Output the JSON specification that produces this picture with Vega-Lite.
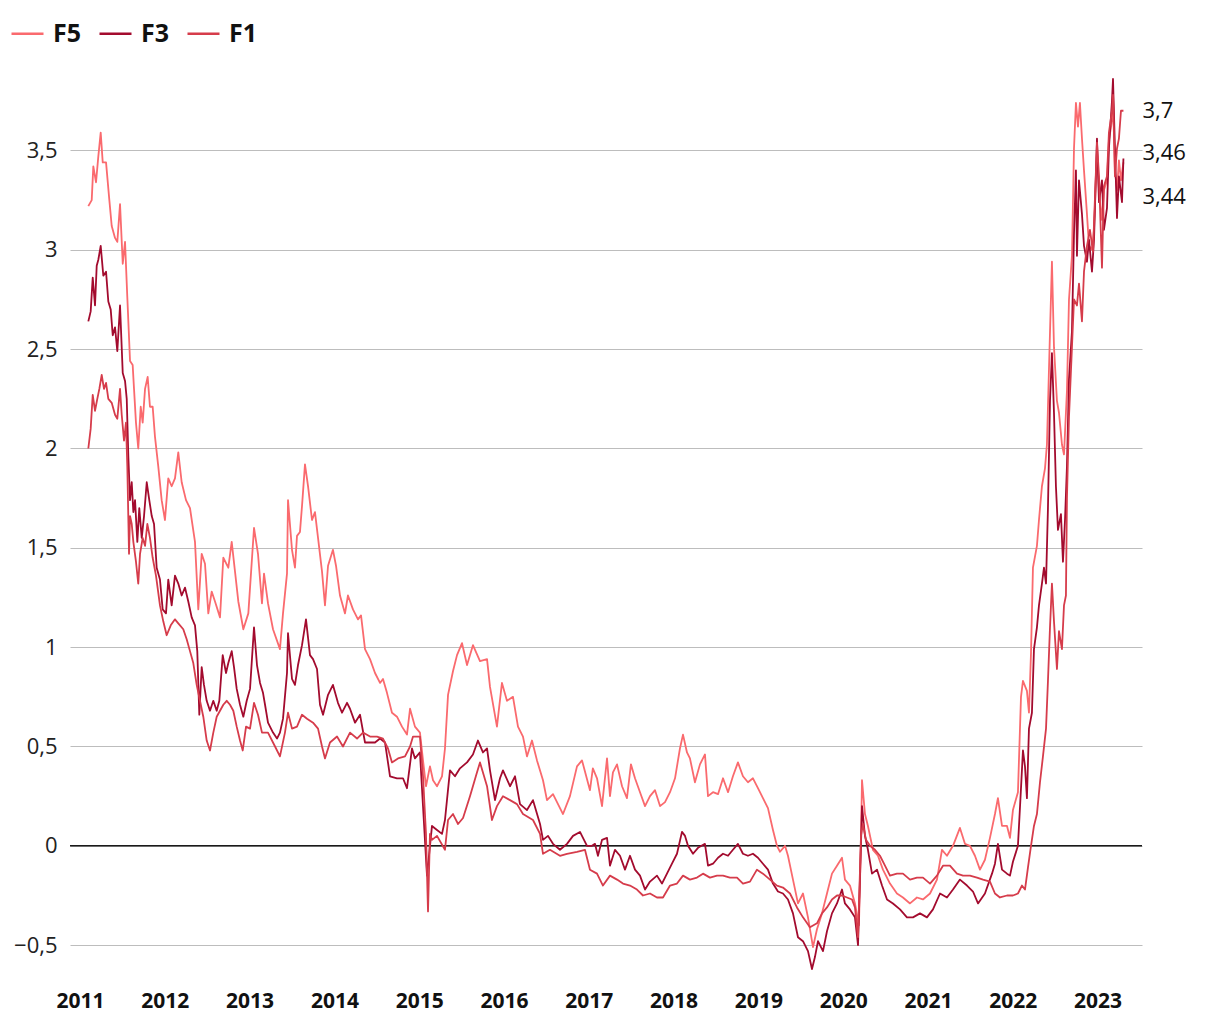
{
"$schema":"https://vega.github.io/schema/vega-lite/v6.json",
"width":1072,"height":894,
"autosize":{"type":"none"},
"padding":{"left":70,"top":75,"right":78,"bottom":51},
"background":"white",
"config":{"view":{"stroke":null},"font":"Open Sans"},
"datasets":{
"ends":[{"s":"F1","t":2023.305,"v":3.70,"label":"3,7"},{"s":"F3","t":2023.305,"v":3.46,"label":"3,46"},{"s":"F5","t":2023.305,"v":3.44,"label":"3,44"}],
"series":[
{"s":"F5","t":2011.098,"v":3.22},{"s":"F5","t":2011.138,"v":3.25},{"s":"F5","t":2011.157,"v":3.42},{"s":"F5","t":2011.189,"v":3.34},{"s":"F5","t":2011.216,"v":3.47},{"s":"F5","t":2011.244,"v":3.59},{"s":"F5","t":2011.268,"v":3.44},{"s":"F5","t":2011.307,"v":3.44},{"s":"F5","t":2011.346,"v":3.25},{"s":"F5","t":2011.374,"v":3.12},{"s":"F5","t":2011.413,"v":3.06},{"s":"F5","t":2011.440,"v":3.04},{"s":"F5","t":2011.472,"v":3.23},{"s":"F5","t":2011.504,"v":2.93},{"s":"F5","t":2011.531,"v":3.04},{"s":"F5","t":2011.558,"v":2.76},{"s":"F5","t":2011.590,"v":2.44},{"s":"F5","t":2011.621,"v":2.42},{"s":"F5","t":2011.637,"v":2.3},{"s":"F5","t":2011.660,"v":2.13},{"s":"F5","t":2011.687,"v":2.0},{"s":"F5","t":2011.716,"v":2.21},{"s":"F5","t":2011.739,"v":2.13},{"s":"F5","t":2011.767,"v":2.3},{"s":"F5","t":2011.798,"v":2.36},{"s":"F5","t":2011.825,"v":2.21},{"s":"F5","t":2011.857,"v":2.21},{"s":"F5","t":2011.884,"v":2.06},{"s":"F5","t":2011.923,"v":1.91},{"s":"F5","t":2011.963,"v":1.74},{"s":"F5","t":2012.002,"v":1.64},{"s":"F5","t":2012.041,"v":1.85},{"s":"F5","t":2012.081,"v":1.81},{"s":"F5","t":2012.120,"v":1.85},{"s":"F5","t":2012.159,"v":1.98},{"s":"F5","t":2012.199,"v":1.83},{"s":"F5","t":2012.250,"v":1.74},{"s":"F5","t":2012.297,"v":1.7},{"s":"F5","t":2012.356,"v":1.53},{"s":"F5","t":2012.395,"v":1.19},{"s":"F5","t":2012.435,"v":1.47},{"s":"F5","t":2012.474,"v":1.42},{"s":"F5","t":2012.513,"v":1.17},{"s":"F5","t":2012.553,"v":1.28},{"s":"F5","t":2012.592,"v":1.23},{"s":"F5","t":2012.651,"v":1.15},{"s":"F5","t":2012.690,"v":1.45},{"s":"F5","t":2012.749,"v":1.4},{"s":"F5","t":2012.789,"v":1.53},{"s":"F5","t":2012.828,"v":1.38},{"s":"F5","t":2012.867,"v":1.23},{"s":"F5","t":2012.926,"v":1.09},{"s":"F5","t":2012.985,"v":1.17},{"s":"F5","t":2013.052,"v":1.6},{"s":"F5","t":2013.099,"v":1.47},{"s":"F5","t":2013.146,"v":1.22},{"s":"F5","t":2013.170,"v":1.37},{"s":"F5","t":2013.217,"v":1.22},{"s":"F5","t":2013.276,"v":1.09},{"s":"F5","t":2013.358,"v":0.99},{"s":"F5","t":2013.394,"v":1.17},{"s":"F5","t":2013.441,"v":1.37},{"s":"F5","t":2013.453,"v":1.74},{"s":"F5","t":2013.500,"v":1.49},{"s":"F5","t":2013.535,"v":1.4},{"s":"F5","t":2013.559,"v":1.56},{"s":"F5","t":2013.594,"v":1.58},{"s":"F5","t":2013.618,"v":1.71},{"s":"F5","t":2013.653,"v":1.92},{"s":"F5","t":2013.689,"v":1.81},{"s":"F5","t":2013.736,"v":1.64},{"s":"F5","t":2013.771,"v":1.68},{"s":"F5","t":2013.807,"v":1.55},{"s":"F5","t":2013.854,"v":1.38},{"s":"F5","t":2013.889,"v":1.21},{"s":"F5","t":2013.925,"v":1.41},{"s":"F5","t":2013.983,"v":1.49},{"s":"F5","t":2014.019,"v":1.41},{"s":"F5","t":2014.066,"v":1.26},{"s":"F5","t":2014.125,"v":1.17},{"s":"F5","t":2014.160,"v":1.26},{"s":"F5","t":2014.219,"v":1.19},{"s":"F5","t":2014.278,"v":1.14},{"s":"F5","t":2014.314,"v":1.16},{"s":"F5","t":2014.361,"v":0.99},{"s":"F5","t":2014.420,"v":0.94},{"s":"F5","t":2014.479,"v":0.87},{"s":"F5","t":2014.538,"v":0.82},{"s":"F5","t":2014.573,"v":0.84},{"s":"F5","t":2014.620,"v":0.77},{"s":"F5","t":2014.679,"v":0.67},{"s":"F5","t":2014.738,"v":0.65},{"s":"F5","t":2014.797,"v":0.6},{"s":"F5","t":2014.856,"v":0.56},{"s":"F5","t":2014.892,"v":0.69},{"s":"F5","t":2014.950,"v":0.6},{"s":"F5","t":2015.009,"v":0.57},{"s":"F5","t":2015.045,"v":0.43},{"s":"F5","t":2015.080,"v":0.3},{"s":"F5","t":2015.127,"v":0.4},{"s":"F5","t":2015.163,"v":0.33},{"s":"F5","t":2015.210,"v":0.3},{"s":"F5","t":2015.269,"v":0.35},{"s":"F5","t":2015.304,"v":0.49},{"s":"F5","t":2015.340,"v":0.76},{"s":"F5","t":2015.399,"v":0.88},{"s":"F5","t":2015.446,"v":0.96},{"s":"F5","t":2015.505,"v":1.02},{"s":"F5","t":2015.564,"v":0.91},{"s":"F5","t":2015.634,"v":1.01},{"s":"F5","t":2015.717,"v":0.93},{"s":"F5","t":2015.800,"v":0.94},{"s":"F5","t":2015.835,"v":0.8},{"s":"F5","t":2015.917,"v":0.6},{"s":"F5","t":2015.976,"v":0.82},{"s":"F5","t":2016.035,"v":0.73},{"s":"F5","t":2016.106,"v":0.75},{"s":"F5","t":2016.165,"v":0.6},{"s":"F5","t":2016.224,"v":0.55},{"s":"F5","t":2016.271,"v":0.45},{"s":"F5","t":2016.330,"v":0.53},{"s":"F5","t":2016.389,"v":0.43},{"s":"F5","t":2016.460,"v":0.33},{"s":"F5","t":2016.507,"v":0.23},{"s":"F5","t":2016.578,"v":0.26},{"s":"F5","t":2016.696,"v":0.16},{"s":"F5","t":2016.778,"v":0.25},{"s":"F5","t":2016.861,"v":0.4},{"s":"F5","t":2016.920,"v":0.43},{"s":"F5","t":2017.014,"v":0.28},{"s":"F5","t":2017.048,"v":0.39},{"s":"F5","t":2017.097,"v":0.34},{"s":"F5","t":2017.156,"v":0.2},{"s":"F5","t":2017.215,"v":0.44},{"s":"F5","t":2017.250,"v":0.25},{"s":"F5","t":2017.285,"v":0.37},{"s":"F5","t":2017.333,"v":0.41},{"s":"F5","t":2017.392,"v":0.3},{"s":"F5","t":2017.450,"v":0.24},{"s":"F5","t":2017.497,"v":0.41},{"s":"F5","t":2017.545,"v":0.34},{"s":"F5","t":2017.604,"v":0.27},{"s":"F5","t":2017.663,"v":0.2},{"s":"F5","t":2017.722,"v":0.25},{"s":"F5","t":2017.781,"v":0.28},{"s":"F5","t":2017.840,"v":0.2},{"s":"F5","t":2017.899,"v":0.22},{"s":"F5","t":2017.958,"v":0.27},{"s":"F5","t":2018.017,"v":0.34},{"s":"F5","t":2018.075,"v":0.49},{"s":"F5","t":2018.111,"v":0.56},{"s":"F5","t":2018.158,"v":0.47},{"s":"F5","t":2018.193,"v":0.44},{"s":"F5","t":2018.252,"v":0.32},{"s":"F5","t":2018.311,"v":0.41},{"s":"F5","t":2018.370,"v":0.46},{"s":"F5","t":2018.406,"v":0.25},{"s":"F5","t":2018.465,"v":0.27},{"s":"F5","t":2018.524,"v":0.26},{"s":"F5","t":2018.583,"v":0.34},{"s":"F5","t":2018.642,"v":0.27},{"s":"F5","t":2018.700,"v":0.35},{"s":"F5","t":2018.759,"v":0.42},{"s":"F5","t":2018.818,"v":0.35},{"s":"F5","t":2018.877,"v":0.32},{"s":"F5","t":2018.936,"v":0.34},{"s":"F5","t":2018.995,"v":0.29},{"s":"F5","t":2019.054,"v":0.24},{"s":"F5","t":2019.113,"v":0.19},{"s":"F5","t":2019.172,"v":0.08},{"s":"F5","t":2019.219,"v":0.0},{"s":"F5","t":2019.255,"v":-0.03},{"s":"F5","t":2019.314,"v":0.0},{"s":"F5","t":2019.349,"v":-0.05},{"s":"F5","t":2019.408,"v":-0.17},{"s":"F5","t":2019.467,"v":-0.29},{"s":"F5","t":2019.526,"v":-0.24},{"s":"F5","t":2019.585,"v":-0.36},{"s":"F5","t":2019.644,"v":-0.51},{"s":"F5","t":2019.691,"v":-0.42},{"s":"F5","t":2019.750,"v":-0.34},{"s":"F5","t":2019.809,"v":-0.24},{"s":"F5","t":2019.868,"v":-0.14},{"s":"F5","t":2019.927,"v":-0.1},{"s":"F5","t":2019.986,"v":-0.06},{"s":"F5","t":2020.021,"v":-0.17},{"s":"F5","t":2020.080,"v":-0.2},{"s":"F5","t":2020.139,"v":-0.29},{"s":"F5","t":2020.186,"v":-0.4},{"s":"F5","t":2020.210,"v":0.03},{"s":"F5","t":2020.222,"v":0.33},{"s":"F5","t":2020.257,"v":0.16},{"s":"F5","t":2020.292,"v":0.1},{"s":"F5","t":2020.351,"v":-0.02},{"s":"F5","t":2020.410,"v":-0.05},{"s":"F5","t":2020.469,"v":-0.12},{"s":"F5","t":2020.552,"v":-0.19},{"s":"F5","t":2020.634,"v":-0.24},{"s":"F5","t":2020.705,"v":-0.26},{"s":"F5","t":2020.788,"v":-0.29},{"s":"F5","t":2020.870,"v":-0.26},{"s":"F5","t":2020.941,"v":-0.27},{"s":"F5","t":2021.024,"v":-0.24},{"s":"F5","t":2021.106,"v":-0.17},{"s":"F5","t":2021.165,"v":-0.02},{"s":"F5","t":2021.224,"v":-0.05},{"s":"F5","t":2021.295,"v":0.0},{"s":"F5","t":2021.377,"v":0.09},{"s":"F5","t":2021.436,"v":0.01},{"s":"F5","t":2021.495,"v":0.0},{"s":"F5","t":2021.554,"v":-0.05},{"s":"F5","t":2021.613,"v":-0.12},{"s":"F5","t":2021.672,"v":-0.07},{"s":"F5","t":2021.731,"v":0.04},{"s":"F5","t":2021.790,"v":0.16},{"s":"F5","t":2021.825,"v":0.24},{"s":"F5","t":2021.873,"v":0.1},{"s":"F5","t":2021.932,"v":0.1},{"s":"F5","t":2021.967,"v":0.04},{"s":"F5","t":2022.002,"v":0.18},{"s":"F5","t":2022.061,"v":0.27},{"s":"F5","t":2022.097,"v":0.75},{"s":"F5","t":2022.120,"v":0.83},{"s":"F5","t":2022.167,"v":0.78},{"s":"F5","t":2022.191,"v":0.67},{"s":"F5","t":2022.215,"v":0.97},{"s":"F5","t":2022.238,"v":1.4},{"s":"F5","t":2022.285,"v":1.51},{"s":"F5","t":2022.309,"v":1.64},{"s":"F5","t":2022.344,"v":1.81},{"s":"F5","t":2022.380,"v":1.9},{"s":"F5","t":2022.403,"v":2.02},{"s":"F5","t":2022.427,"v":2.4},{"s":"F5","t":2022.462,"v":2.94},{"s":"F5","t":2022.486,"v":2.51},{"s":"F5","t":2022.521,"v":2.24},{"s":"F5","t":2022.545,"v":2.18},{"s":"F5","t":2022.580,"v":2.02},{"s":"F5","t":2022.604,"v":1.97},{"s":"F5","t":2022.639,"v":2.29},{"s":"F5","t":2022.663,"v":2.75},{"s":"F5","t":2022.698,"v":2.97},{"s":"F5","t":2022.722,"v":3.51},{"s":"F5","t":2022.745,"v":3.74},{"s":"F5","t":2022.769,"v":3.62},{"s":"F5","t":2022.792,"v":3.74},{"s":"F5","t":2022.816,"v":3.56},{"s":"F5","t":2022.840,"v":3.4},{"s":"F5","t":2022.875,"v":3.18},{"s":"F5","t":2022.899,"v":3.02},{"s":"F5","t":2022.934,"v":3.0},{"s":"F5","t":2022.958,"v":3.1},{"s":"F5","t":2022.993,"v":3.5},{"s":"F5","t":2023.017,"v":3.3},{"s":"F5","t":2023.052,"v":3.15},{"s":"F5","t":2023.075,"v":3.3},{"s":"F5","t":2023.111,"v":3.35},{"s":"F5","t":2023.134,"v":3.55},{"s":"F5","t":2023.170,"v":3.65},{"s":"F5","t":2023.182,"v":3.8},{"s":"F5","t":2023.205,"v":3.4},{"s":"F5","t":2023.229,"v":3.3},{"s":"F5","t":2023.252,"v":3.45},{"s":"F5","t":2023.276,"v":3.35},{"s":"F5","t":2023.305,"v":3.44},
{"s":"F3","t":2011.098,"v":2.64},{"s":"F3","t":2011.126,"v":2.69},{"s":"F3","t":2011.150,"v":2.86},{"s":"F3","t":2011.177,"v":2.72},{"s":"F3","t":2011.197,"v":2.92},{"s":"F3","t":2011.216,"v":2.95},{"s":"F3","t":2011.244,"v":3.02},{"s":"F3","t":2011.275,"v":2.87},{"s":"F3","t":2011.307,"v":2.89},{"s":"F3","t":2011.334,"v":2.74},{"s":"F3","t":2011.362,"v":2.7},{"s":"F3","t":2011.386,"v":2.57},{"s":"F3","t":2011.413,"v":2.61},{"s":"F3","t":2011.440,"v":2.49},{"s":"F3","t":2011.472,"v":2.72},{"s":"F3","t":2011.504,"v":2.38},{"s":"F3","t":2011.531,"v":2.34},{"s":"F3","t":2011.551,"v":2.25},{"s":"F3","t":2011.570,"v":1.96},{"s":"F3","t":2011.590,"v":1.74},{"s":"F3","t":2011.610,"v":1.83},{"s":"F3","t":2011.629,"v":1.68},{"s":"F3","t":2011.649,"v":1.74},{"s":"F3","t":2011.676,"v":1.53},{"s":"F3","t":2011.699,"v":1.7},{"s":"F3","t":2011.728,"v":1.55},{"s":"F3","t":2011.755,"v":1.66},{"s":"F3","t":2011.787,"v":1.83},{"s":"F3","t":2011.817,"v":1.74},{"s":"F3","t":2011.846,"v":1.66},{"s":"F3","t":2011.873,"v":1.62},{"s":"F3","t":2011.904,"v":1.4},{"s":"F3","t":2011.943,"v":1.34},{"s":"F3","t":2011.975,"v":1.19},{"s":"F3","t":2012.014,"v":1.17},{"s":"F3","t":2012.041,"v":1.34},{"s":"F3","t":2012.081,"v":1.21},{"s":"F3","t":2012.120,"v":1.36},{"s":"F3","t":2012.159,"v":1.32},{"s":"F3","t":2012.199,"v":1.26},{"s":"F3","t":2012.238,"v":1.3},{"s":"F3","t":2012.277,"v":1.23},{"s":"F3","t":2012.317,"v":1.15},{"s":"F3","t":2012.356,"v":1.11},{"s":"F3","t":2012.383,"v":0.98},{"s":"F3","t":2012.407,"v":0.66},{"s":"F3","t":2012.435,"v":0.9},{"s":"F3","t":2012.462,"v":0.81},{"s":"F3","t":2012.494,"v":0.73},{"s":"F3","t":2012.533,"v":0.68},{"s":"F3","t":2012.572,"v":0.73},{"s":"F3","t":2012.612,"v":0.68},{"s":"F3","t":2012.643,"v":0.73},{"s":"F3","t":2012.683,"v":0.96},{"s":"F3","t":2012.722,"v":0.87},{"s":"F3","t":2012.749,"v":0.92},{"s":"F3","t":2012.789,"v":0.98},{"s":"F3","t":2012.816,"v":0.9},{"s":"F3","t":2012.848,"v":0.79},{"s":"F3","t":2012.887,"v":0.71},{"s":"F3","t":2012.926,"v":0.65},{"s":"F3","t":2012.966,"v":0.73},{"s":"F3","t":2013.005,"v":0.79},{"s":"F3","t":2013.052,"v":1.1},{"s":"F3","t":2013.087,"v":0.91},{"s":"F3","t":2013.123,"v":0.82},{"s":"F3","t":2013.158,"v":0.77},{"s":"F3","t":2013.182,"v":0.71},{"s":"F3","t":2013.217,"v":0.62},{"s":"F3","t":2013.276,"v":0.57},{"s":"F3","t":2013.323,"v":0.54},{"s":"F3","t":2013.358,"v":0.57},{"s":"F3","t":2013.394,"v":0.64},{"s":"F3","t":2013.441,"v":0.87},{"s":"F3","t":2013.453,"v":1.07},{"s":"F3","t":2013.500,"v":0.84},{"s":"F3","t":2013.535,"v":0.81},{"s":"F3","t":2013.571,"v":0.91},{"s":"F3","t":2013.618,"v":1.01},{"s":"F3","t":2013.665,"v":1.14},{"s":"F3","t":2013.712,"v":0.96},{"s":"F3","t":2013.748,"v":0.94},{"s":"F3","t":2013.795,"v":0.89},{"s":"F3","t":2013.830,"v":0.71},{"s":"F3","t":2013.866,"v":0.66},{"s":"F3","t":2013.925,"v":0.76},{"s":"F3","t":2013.983,"v":0.81},{"s":"F3","t":2014.042,"v":0.72},{"s":"F3","t":2014.090,"v":0.67},{"s":"F3","t":2014.149,"v":0.72},{"s":"F3","t":2014.184,"v":0.69},{"s":"F3","t":2014.243,"v":0.62},{"s":"F3","t":2014.302,"v":0.66},{"s":"F3","t":2014.361,"v":0.52},{"s":"F3","t":2014.420,"v":0.52},{"s":"F3","t":2014.479,"v":0.52},{"s":"F3","t":2014.538,"v":0.54},{"s":"F3","t":2014.597,"v":0.52},{"s":"F3","t":2014.656,"v":0.35},{"s":"F3","t":2014.738,"v":0.34},{"s":"F3","t":2014.809,"v":0.34},{"s":"F3","t":2014.856,"v":0.29},{"s":"F3","t":2014.915,"v":0.49},{"s":"F3","t":2014.950,"v":0.44},{"s":"F3","t":2015.009,"v":0.47},{"s":"F3","t":2015.045,"v":0.2},{"s":"F3","t":2015.092,"v":-0.15},{"s":"F3","t":2015.151,"v":0.1},{"s":"F3","t":2015.210,"v":0.08},{"s":"F3","t":2015.269,"v":0.06},{"s":"F3","t":2015.304,"v":0.13},{"s":"F3","t":2015.363,"v":0.38},{"s":"F3","t":2015.422,"v":0.35},{"s":"F3","t":2015.481,"v":0.39},{"s":"F3","t":2015.564,"v":0.42},{"s":"F3","t":2015.634,"v":0.46},{"s":"F3","t":2015.693,"v":0.53},{"s":"F3","t":2015.752,"v":0.47},{"s":"F3","t":2015.800,"v":0.49},{"s":"F3","t":2015.835,"v":0.38},{"s":"F3","t":2015.894,"v":0.23},{"s":"F3","t":2015.953,"v":0.34},{"s":"F3","t":2015.988,"v":0.38},{"s":"F3","t":2016.071,"v":0.3},{"s":"F3","t":2016.130,"v":0.35},{"s":"F3","t":2016.189,"v":0.21},{"s":"F3","t":2016.271,"v":0.18},{"s":"F3","t":2016.342,"v":0.23},{"s":"F3","t":2016.425,"v":0.11},{"s":"F3","t":2016.460,"v":0.03},{"s":"F3","t":2016.519,"v":0.05},{"s":"F3","t":2016.578,"v":0.01},{"s":"F3","t":2016.660,"v":-0.02},{"s":"F3","t":2016.743,"v":0.01},{"s":"F3","t":2016.814,"v":0.05},{"s":"F3","t":2016.896,"v":0.07},{"s":"F3","t":2016.979,"v":0.0},{"s":"F3","t":2017.038,"v":0.0},{"s":"F3","t":2017.073,"v":0.01},{"s":"F3","t":2017.108,"v":-0.05},{"s":"F3","t":2017.156,"v":0.03},{"s":"F3","t":2017.215,"v":0.04},{"s":"F3","t":2017.250,"v":-0.1},{"s":"F3","t":2017.309,"v":-0.02},{"s":"F3","t":2017.368,"v":-0.05},{"s":"F3","t":2017.427,"v":-0.12},{"s":"F3","t":2017.486,"v":-0.05},{"s":"F3","t":2017.545,"v":-0.12},{"s":"F3","t":2017.604,"v":-0.15},{"s":"F3","t":2017.663,"v":-0.22},{"s":"F3","t":2017.722,"v":-0.18},{"s":"F3","t":2017.804,"v":-0.15},{"s":"F3","t":2017.863,"v":-0.19},{"s":"F3","t":2017.922,"v":-0.14},{"s":"F3","t":2017.981,"v":-0.09},{"s":"F3","t":2018.040,"v":-0.04},{"s":"F3","t":2018.099,"v":0.07},{"s":"F3","t":2018.135,"v":0.05},{"s":"F3","t":2018.170,"v":0.0},{"s":"F3","t":2018.229,"v":-0.04},{"s":"F3","t":2018.288,"v":-0.01},{"s":"F3","t":2018.370,"v":0.01},{"s":"F3","t":2018.406,"v":-0.1},{"s":"F3","t":2018.465,"v":-0.09},{"s":"F3","t":2018.524,"v":-0.06},{"s":"F3","t":2018.583,"v":-0.04},{"s":"F3","t":2018.642,"v":-0.05},{"s":"F3","t":2018.700,"v":-0.02},{"s":"F3","t":2018.759,"v":0.01},{"s":"F3","t":2018.818,"v":-0.04},{"s":"F3","t":2018.877,"v":-0.05},{"s":"F3","t":2018.936,"v":-0.04},{"s":"F3","t":2018.995,"v":-0.06},{"s":"F3","t":2019.054,"v":-0.09},{"s":"F3","t":2019.113,"v":-0.12},{"s":"F3","t":2019.172,"v":-0.19},{"s":"F3","t":2019.231,"v":-0.23},{"s":"F3","t":2019.290,"v":-0.24},{"s":"F3","t":2019.349,"v":-0.27},{"s":"F3","t":2019.408,"v":-0.34},{"s":"F3","t":2019.467,"v":-0.46},{"s":"F3","t":2019.526,"v":-0.48},{"s":"F3","t":2019.585,"v":-0.53},{"s":"F3","t":2019.632,"v":-0.62},{"s":"F3","t":2019.667,"v":-0.56},{"s":"F3","t":2019.703,"v":-0.48},{"s":"F3","t":2019.762,"v":-0.53},{"s":"F3","t":2019.809,"v":-0.43},{"s":"F3","t":2019.868,"v":-0.34},{"s":"F3","t":2019.927,"v":-0.29},{"s":"F3","t":2019.986,"v":-0.22},{"s":"F3","t":2020.021,"v":-0.29},{"s":"F3","t":2020.080,"v":-0.32},{"s":"F3","t":2020.139,"v":-0.36},{"s":"F3","t":2020.175,"v":-0.5},{"s":"F3","t":2020.210,"v":0.01},{"s":"F3","t":2020.222,"v":0.2},{"s":"F3","t":2020.257,"v":0.05},{"s":"F3","t":2020.292,"v":-0.02},{"s":"F3","t":2020.340,"v":-0.14},{"s":"F3","t":2020.399,"v":-0.12},{"s":"F3","t":2020.458,"v":-0.2},{"s":"F3","t":2020.517,"v":-0.27},{"s":"F3","t":2020.587,"v":-0.29},{"s":"F3","t":2020.670,"v":-0.32},{"s":"F3","t":2020.752,"v":-0.36},{"s":"F3","t":2020.823,"v":-0.36},{"s":"F3","t":2020.906,"v":-0.34},{"s":"F3","t":2020.988,"v":-0.36},{"s":"F3","t":2021.059,"v":-0.32},{"s":"F3","t":2021.142,"v":-0.24},{"s":"F3","t":2021.224,"v":-0.26},{"s":"F3","t":2021.295,"v":-0.22},{"s":"F3","t":2021.377,"v":-0.17},{"s":"F3","t":2021.460,"v":-0.2},{"s":"F3","t":2021.531,"v":-0.23},{"s":"F3","t":2021.590,"v":-0.29},{"s":"F3","t":2021.672,"v":-0.24},{"s":"F3","t":2021.755,"v":-0.14},{"s":"F3","t":2021.790,"v":-0.09},{"s":"F3","t":2021.825,"v":0.01},{"s":"F3","t":2021.873,"v":-0.12},{"s":"F3","t":2021.932,"v":-0.14},{"s":"F3","t":2021.967,"v":-0.15},{"s":"F3","t":2022.002,"v":-0.08},{"s":"F3","t":2022.061,"v":0.0},{"s":"F3","t":2022.097,"v":0.29},{"s":"F3","t":2022.120,"v":0.48},{"s":"F3","t":2022.144,"v":0.4},{"s":"F3","t":2022.167,"v":0.24},{"s":"F3","t":2022.191,"v":0.59},{"s":"F3","t":2022.226,"v":0.67},{"s":"F3","t":2022.250,"v":0.99},{"s":"F3","t":2022.285,"v":1.1},{"s":"F3","t":2022.309,"v":1.21},{"s":"F3","t":2022.344,"v":1.32},{"s":"F3","t":2022.368,"v":1.4},{"s":"F3","t":2022.392,"v":1.32},{"s":"F3","t":2022.415,"v":1.7},{"s":"F3","t":2022.439,"v":2.24},{"s":"F3","t":2022.462,"v":2.48},{"s":"F3","t":2022.486,"v":2.18},{"s":"F3","t":2022.509,"v":1.81},{"s":"F3","t":2022.533,"v":1.59},{"s":"F3","t":2022.568,"v":1.67},{"s":"F3","t":2022.592,"v":1.43},{"s":"F3","t":2022.616,"v":1.64},{"s":"F3","t":2022.639,"v":1.91},{"s":"F3","t":2022.663,"v":2.35},{"s":"F3","t":2022.698,"v":2.59},{"s":"F3","t":2022.722,"v":3.08},{"s":"F3","t":2022.745,"v":3.4},{"s":"F3","t":2022.757,"v":2.97},{"s":"F3","t":2022.781,"v":3.35},{"s":"F3","t":2022.816,"v":3.18},{"s":"F3","t":2022.840,"v":3.02},{"s":"F3","t":2022.875,"v":2.94},{"s":"F3","t":2022.899,"v":3.05},{"s":"F3","t":2022.934,"v":2.89},{"s":"F3","t":2022.958,"v":3.05},{"s":"F3","t":2022.993,"v":3.56},{"s":"F3","t":2023.017,"v":3.24},{"s":"F3","t":2023.052,"v":3.35},{"s":"F3","t":2023.075,"v":3.1},{"s":"F3","t":2023.111,"v":3.21},{"s":"F3","t":2023.134,"v":3.51},{"s":"F3","t":2023.170,"v":3.75},{"s":"F3","t":2023.182,"v":3.86},{"s":"F3","t":2023.205,"v":3.51},{"s":"F3","t":2023.229,"v":3.16},{"s":"F3","t":2023.252,"v":3.37},{"s":"F3","t":2023.288,"v":3.24},{"s":"F3","t":2023.305,"v":3.46},
{"s":"F1","t":2011.098,"v":2.0},{"s":"F1","t":2011.126,"v":2.1},{"s":"F1","t":2011.150,"v":2.27},{"s":"F1","t":2011.177,"v":2.19},{"s":"F1","t":2011.204,"v":2.25},{"s":"F1","t":2011.228,"v":2.3},{"s":"F1","t":2011.256,"v":2.37},{"s":"F1","t":2011.283,"v":2.3},{"s":"F1","t":2011.307,"v":2.33},{"s":"F1","t":2011.334,"v":2.25},{"s":"F1","t":2011.374,"v":2.23},{"s":"F1","t":2011.413,"v":2.17},{"s":"F1","t":2011.440,"v":2.15},{"s":"F1","t":2011.472,"v":2.3},{"s":"F1","t":2011.492,"v":2.17},{"s":"F1","t":2011.519,"v":2.04},{"s":"F1","t":2011.542,"v":2.13},{"s":"F1","t":2011.558,"v":1.91},{"s":"F1","t":2011.578,"v":1.47},{"s":"F1","t":2011.590,"v":1.66},{"s":"F1","t":2011.610,"v":1.62},{"s":"F1","t":2011.629,"v":1.53},{"s":"F1","t":2011.660,"v":1.43},{"s":"F1","t":2011.687,"v":1.32},{"s":"F1","t":2011.708,"v":1.47},{"s":"F1","t":2011.739,"v":1.55},{"s":"F1","t":2011.767,"v":1.51},{"s":"F1","t":2011.794,"v":1.62},{"s":"F1","t":2011.825,"v":1.55},{"s":"F1","t":2011.857,"v":1.45},{"s":"F1","t":2011.896,"v":1.36},{"s":"F1","t":2011.943,"v":1.21},{"s":"F1","t":2011.982,"v":1.13},{"s":"F1","t":2012.022,"v":1.06},{"s":"F1","t":2012.070,"v":1.11},{"s":"F1","t":2012.120,"v":1.14},{"s":"F1","t":2012.159,"v":1.12},{"s":"F1","t":2012.218,"v":1.09},{"s":"F1","t":2012.258,"v":1.04},{"s":"F1","t":2012.297,"v":0.98},{"s":"F1","t":2012.336,"v":0.92},{"s":"F1","t":2012.376,"v":0.81},{"s":"F1","t":2012.415,"v":0.73},{"s":"F1","t":2012.454,"v":0.65},{"s":"F1","t":2012.494,"v":0.53},{"s":"F1","t":2012.533,"v":0.48},{"s":"F1","t":2012.572,"v":0.57},{"s":"F1","t":2012.612,"v":0.65},{"s":"F1","t":2012.651,"v":0.68},{"s":"F1","t":2012.690,"v":0.71},{"s":"F1","t":2012.730,"v":0.73},{"s":"F1","t":2012.769,"v":0.71},{"s":"F1","t":2012.808,"v":0.68},{"s":"F1","t":2012.848,"v":0.6},{"s":"F1","t":2012.887,"v":0.53},{"s":"F1","t":2012.919,"v":0.48},{"s":"F1","t":2012.958,"v":0.6},{"s":"F1","t":2013.005,"v":0.59},{"s":"F1","t":2013.052,"v":0.72},{"s":"F1","t":2013.099,"v":0.66},{"s":"F1","t":2013.146,"v":0.57},{"s":"F1","t":2013.217,"v":0.57},{"s":"F1","t":2013.300,"v":0.5},{"s":"F1","t":2013.358,"v":0.45},{"s":"F1","t":2013.417,"v":0.57},{"s":"F1","t":2013.453,"v":0.67},{"s":"F1","t":2013.500,"v":0.59},{"s":"F1","t":2013.559,"v":0.6},{"s":"F1","t":2013.618,"v":0.66},{"s":"F1","t":2013.677,"v":0.64},{"s":"F1","t":2013.748,"v":0.62},{"s":"F1","t":2013.807,"v":0.59},{"s":"F1","t":2013.854,"v":0.5},{"s":"F1","t":2013.889,"v":0.44},{"s":"F1","t":2013.948,"v":0.52},{"s":"F1","t":2014.031,"v":0.55},{"s":"F1","t":2014.101,"v":0.5},{"s":"F1","t":2014.184,"v":0.57},{"s":"F1","t":2014.267,"v":0.54},{"s":"F1","t":2014.337,"v":0.57},{"s":"F1","t":2014.420,"v":0.55},{"s":"F1","t":2014.502,"v":0.55},{"s":"F1","t":2014.573,"v":0.54},{"s":"F1","t":2014.632,"v":0.49},{"s":"F1","t":2014.679,"v":0.42},{"s":"F1","t":2014.750,"v":0.44},{"s":"F1","t":2014.833,"v":0.45},{"s":"F1","t":2014.892,"v":0.5},{"s":"F1","t":2014.927,"v":0.55},{"s":"F1","t":2015.009,"v":0.55},{"s":"F1","t":2015.045,"v":0.35},{"s":"F1","t":2015.080,"v":0.06},{"s":"F1","t":2015.104,"v":-0.33},{"s":"F1","t":2015.127,"v":0.06},{"s":"F1","t":2015.151,"v":0.03},{"s":"F1","t":2015.210,"v":0.05},{"s":"F1","t":2015.304,"v":-0.02},{"s":"F1","t":2015.340,"v":0.13},{"s":"F1","t":2015.399,"v":0.16},{"s":"F1","t":2015.458,"v":0.11},{"s":"F1","t":2015.517,"v":0.14},{"s":"F1","t":2015.599,"v":0.25},{"s":"F1","t":2015.682,"v":0.37},{"s":"F1","t":2015.717,"v":0.42},{"s":"F1","t":2015.800,"v":0.3},{"s":"F1","t":2015.858,"v":0.13},{"s":"F1","t":2015.917,"v":0.2},{"s":"F1","t":2015.988,"v":0.25},{"s":"F1","t":2016.071,"v":0.23},{"s":"F1","t":2016.153,"v":0.21},{"s":"F1","t":2016.224,"v":0.16},{"s":"F1","t":2016.342,"v":0.13},{"s":"F1","t":2016.425,"v":0.06},{"s":"F1","t":2016.460,"v":-0.04},{"s":"F1","t":2016.542,"v":-0.02},{"s":"F1","t":2016.660,"v":-0.05},{"s":"F1","t":2016.743,"v":-0.04},{"s":"F1","t":2016.861,"v":-0.03},{"s":"F1","t":2016.955,"v":-0.02},{"s":"F1","t":2017.014,"v":-0.12},{"s":"F1","t":2017.097,"v":-0.14},{"s":"F1","t":2017.167,"v":-0.2},{"s":"F1","t":2017.250,"v":-0.15},{"s":"F1","t":2017.333,"v":-0.17},{"s":"F1","t":2017.403,"v":-0.19},{"s":"F1","t":2017.486,"v":-0.2},{"s":"F1","t":2017.568,"v":-0.22},{"s":"F1","t":2017.639,"v":-0.25},{"s":"F1","t":2017.722,"v":-0.24},{"s":"F1","t":2017.804,"v":-0.26},{"s":"F1","t":2017.875,"v":-0.26},{"s":"F1","t":2017.958,"v":-0.2},{"s":"F1","t":2018.040,"v":-0.19},{"s":"F1","t":2018.111,"v":-0.15},{"s":"F1","t":2018.193,"v":-0.17},{"s":"F1","t":2018.276,"v":-0.16},{"s":"F1","t":2018.347,"v":-0.14},{"s":"F1","t":2018.429,"v":-0.16},{"s":"F1","t":2018.512,"v":-0.15},{"s":"F1","t":2018.583,"v":-0.15},{"s":"F1","t":2018.665,"v":-0.16},{"s":"F1","t":2018.748,"v":-0.16},{"s":"F1","t":2018.818,"v":-0.19},{"s":"F1","t":2018.901,"v":-0.18},{"s":"F1","t":2018.983,"v":-0.12},{"s":"F1","t":2019.054,"v":-0.14},{"s":"F1","t":2019.137,"v":-0.17},{"s":"F1","t":2019.219,"v":-0.2},{"s":"F1","t":2019.290,"v":-0.21},{"s":"F1","t":2019.373,"v":-0.24},{"s":"F1","t":2019.455,"v":-0.31},{"s":"F1","t":2019.526,"v":-0.36},{"s":"F1","t":2019.608,"v":-0.41},{"s":"F1","t":2019.691,"v":-0.39},{"s":"F1","t":2019.750,"v":-0.34},{"s":"F1","t":2019.809,"v":-0.31},{"s":"F1","t":2019.868,"v":-0.27},{"s":"F1","t":2019.927,"v":-0.25},{"s":"F1","t":2019.986,"v":-0.25},{"s":"F1","t":2020.045,"v":-0.26},{"s":"F1","t":2020.104,"v":-0.27},{"s":"F1","t":2020.139,"v":-0.31},{"s":"F1","t":2020.175,"v":-0.46},{"s":"F1","t":2020.210,"v":0.05},{"s":"F1","t":2020.233,"v":0.11},{"s":"F1","t":2020.269,"v":0.03},{"s":"F1","t":2020.316,"v":0.0},{"s":"F1","t":2020.375,"v":-0.02},{"s":"F1","t":2020.434,"v":-0.05},{"s":"F1","t":2020.493,"v":-0.1},{"s":"F1","t":2020.552,"v":-0.15},{"s":"F1","t":2020.634,"v":-0.14},{"s":"F1","t":2020.705,"v":-0.14},{"s":"F1","t":2020.788,"v":-0.17},{"s":"F1","t":2020.870,"v":-0.16},{"s":"F1","t":2020.941,"v":-0.16},{"s":"F1","t":2021.024,"v":-0.19},{"s":"F1","t":2021.106,"v":-0.15},{"s":"F1","t":2021.177,"v":-0.1},{"s":"F1","t":2021.259,"v":-0.1},{"s":"F1","t":2021.342,"v":-0.14},{"s":"F1","t":2021.413,"v":-0.15},{"s":"F1","t":2021.495,"v":-0.15},{"s":"F1","t":2021.578,"v":-0.16},{"s":"F1","t":2021.649,"v":-0.17},{"s":"F1","t":2021.731,"v":-0.18},{"s":"F1","t":2021.790,"v":-0.24},{"s":"F1","t":2021.849,"v":-0.26},{"s":"F1","t":2021.932,"v":-0.25},{"s":"F1","t":2022.002,"v":-0.25},{"s":"F1","t":2022.061,"v":-0.24},{"s":"F1","t":2022.108,"v":-0.2},{"s":"F1","t":2022.144,"v":-0.22},{"s":"F1","t":2022.179,"v":-0.11},{"s":"F1","t":2022.215,"v":0.0},{"s":"F1","t":2022.250,"v":0.1},{"s":"F1","t":2022.285,"v":0.16},{"s":"F1","t":2022.321,"v":0.32},{"s":"F1","t":2022.356,"v":0.45},{"s":"F1","t":2022.392,"v":0.59},{"s":"F1","t":2022.415,"v":0.83},{"s":"F1","t":2022.439,"v":1.1},{"s":"F1","t":2022.462,"v":1.32},{"s":"F1","t":2022.486,"v":1.13},{"s":"F1","t":2022.521,"v":0.89},{"s":"F1","t":2022.545,"v":1.08},{"s":"F1","t":2022.580,"v":0.99},{"s":"F1","t":2022.604,"v":1.21},{"s":"F1","t":2022.627,"v":1.26},{"s":"F1","t":2022.639,"v":1.75},{"s":"F1","t":2022.663,"v":2.16},{"s":"F1","t":2022.698,"v":2.51},{"s":"F1","t":2022.722,"v":2.75},{"s":"F1","t":2022.757,"v":2.72},{"s":"F1","t":2022.781,"v":2.83},{"s":"F1","t":2022.816,"v":2.64},{"s":"F1","t":2022.840,"v":2.89},{"s":"F1","t":2022.875,"v":3.02},{"s":"F1","t":2022.910,"v":3.1},{"s":"F1","t":2022.946,"v":2.99},{"s":"F1","t":2022.993,"v":3.54},{"s":"F1","t":2023.017,"v":3.37},{"s":"F1","t":2023.052,"v":2.91},{"s":"F1","t":2023.075,"v":3.32},{"s":"F1","t":2023.111,"v":3.37},{"s":"F1","t":2023.134,"v":3.59},{"s":"F1","t":2023.170,"v":3.7},{"s":"F1","t":2023.182,"v":3.78},{"s":"F1","t":2023.205,"v":3.37},{"s":"F1","t":2023.229,"v":3.51},{"s":"F1","t":2023.252,"v":3.56},{"s":"F1","t":2023.276,"v":3.7},{"s":"F1","t":2023.305,"v":3.7}
]},
"layer":[
{"data":{"values":[{}]},"mark":{"type":"rule","color":"#1a1a1a","strokeWidth":1.5},"encoding":{"y":{"datum":0,"type":"quantitative"}}},
{"data":{"name":"series"},
 "mark":{"type":"line","strokeWidth":1.8,"strokeJoin":"round"},
 "encoding":{
  "x":{"field":"t","type":"quantitative","scale":{"domain":[2010.882,2023.524],"nice":false,"zero":false},
       "axis":{"values":[2011,2012,2013,2014,2015,2016,2017,2018,2019,2020,2021,2022,2023],"format":"d","title":null,"domain":false,"ticks":false,"grid":false,"labelFont":"Open Sans","labelFontWeight":"bold","labelFontSize":21,"labelColor":"#111","labelPadding":21,"labelOverlap":false,"labelFlush":false}},
  "y":{"field":"v","type":"quantitative","scale":{"domain":[-0.62,3.88],"nice":false,"zero":false},
       "axis":{"values":[-0.5,0,0.5,1,1.5,2,2.5,3,3.5],"labelExpr":"replace(format(datum.value,'~g'),'.',',')","title":null,"domain":false,"ticks":false,"grid":true,"gridColor":"#bdbdbd","gridWidth":1.2,"labelFont":"Open Sans","labelFontSize":22,"labelColor":"#222","labelPadding":13}},
  "color":{"field":"s","type":"nominal","scale":{"domain":["F5","F3","F1"],"range":["#fa6a6e","#a30b2e","#d63c4b"]},
       "legend":{"orient":"none","legendX":-60,"legendY":-59,"direction":"horizontal","columns":3,"title":null,"symbolType":"stroke","symbolSize":1024,"symbolStrokeWidth":2.5,"labelFont":"Open Sans","labelFontSize":25,"labelFontWeight":"bold","labelColor":"#111","labelOffset":8,"columnPadding":12}}
 }},
{"data":{"name":"ends"},"transform":[{"filter":"datum.s==='F1'"}],"mark":{"type":"text","align":"left","baseline":"middle","dx":19,"dy":0,"font":"Open Sans","fontSize":22,"color":"#111"},"encoding":{"x":{"field":"t","type":"quantitative"},"y":{"field":"v","type":"quantitative"},"text":{"field":"label"}}},
{"data":{"name":"ends"},"transform":[{"filter":"datum.s==='F3'"}],"mark":{"type":"text","align":"left","baseline":"middle","dx":19,"dy":-5,"font":"Open Sans","fontSize":22,"color":"#111"},"encoding":{"x":{"field":"t","type":"quantitative"},"y":{"field":"v","type":"quantitative"},"text":{"field":"label"}}},
{"data":{"name":"ends"},"transform":[{"filter":"datum.s==='F5'"}],"mark":{"type":"text","align":"left","baseline":"middle","dx":19,"dy":35,"font":"Open Sans","fontSize":22,"color":"#111"},"encoding":{"x":{"field":"t","type":"quantitative"},"y":{"field":"v","type":"quantitative"},"text":{"field":"label"}}}
]
}
